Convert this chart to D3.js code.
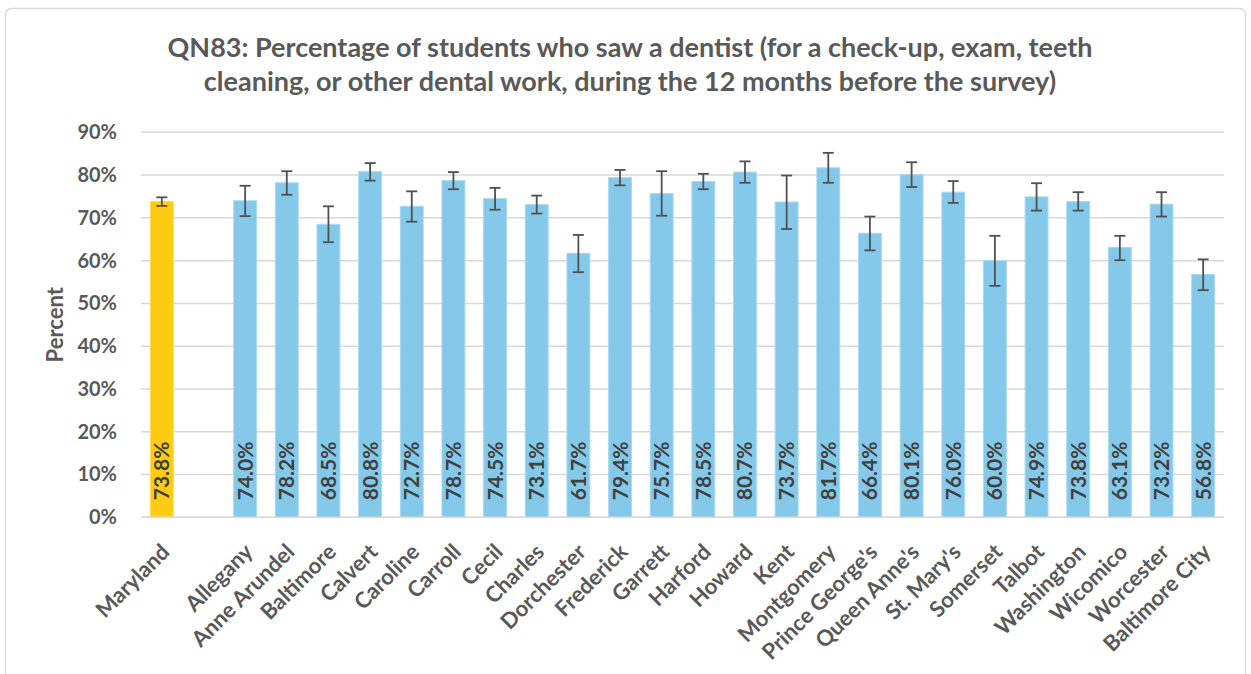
<!DOCTYPE html>
<html><head><meta charset="utf-8">
<script src="https://cdn.jsdelivr.net/npm/d3@7"></script>
<style>body{margin:0;background:#fff;} svg{display:block;font-family:Lato,"Open Sans",sans-serif;}</style>
</head><body>
<svg id="c" width="1251" height="674"></svg>
<script>
const categories = ["Maryland","","Allegany","Anne Arundel","Baltimore","Calvert","Caroline","Carroll","Cecil","Charles","Dorchester","Frederick","Garrett","Harford","Howard","Kent","Montgomery","Prince George's","Queen Anne's","St. Mary's","Somerset","Talbot","Washington","Wicomico","Worcester","Baltimore City"];
const values = [73.8,null,74.0,78.2,68.5,80.8,72.7,78.7,74.5,73.1,61.7,79.4,75.7,78.5,80.7,73.7,81.7,66.4,80.1,76.0,60.0,74.9,73.8,63.1,73.2,56.8];
const upper = [74.8,null,77.5,80.9,72.7,82.8,76.2,80.7,77.0,75.2,66.0,81.2,80.9,80.3,83.2,79.9,85.2,70.3,83.0,78.6,65.8,78.1,76.0,65.8,76.0,60.3];
const lower = [72.8,null,70.4,75.4,64.3,78.7,69.1,76.7,71.9,71.0,57.3,77.6,70.5,76.7,78.2,67.4,78.2,62.4,77.2,73.5,54.1,71.7,71.7,60.1,70.3,53.1];
const yTicks = [0,10,20,30,40,50,60,70,80,90];
const titleLines = ["QN83: Percentage of students who saw a dentist (for a check-up, exam, teeth","cleaning, or other dental work, during the 12 months before the survey)"];
const yTitle = "Percent";

const svg = d3.select("#c");
const m = {l:141, r:1224, t:132.3, b:517.3};
const keys = categories.map((c,i)=>"k"+i);
const x = d3.scaleBand().domain(keys).range([m.l,m.r]).paddingInner(0.45).paddingOuter(0.225);
const y = d3.scaleLinear().domain([0,90]).range([m.b,m.t]);

// frame
svg.append("rect").attr("x",5.5).attr("y",8.5).attr("width",1240).attr("height",700).attr("rx",6)
  .attr("fill","#fff").attr("stroke","#d9d9d9").attr("stroke-width",1.5);

// title
const tt = svg.append("text").attr("text-anchor","middle").attr("fill","#595959")
  .attr("font-weight","bold").attr("font-size",27);
titleLines.forEach((t,i)=>tt.append("tspan").attr("x",630).attr("y",57+i*34).text(t));

// grid
svg.append("g").selectAll("line").data(yTicks).join("line")
  .attr("x1",m.l).attr("x2",m.r).attr("y1",d=>y(d)).attr("y2",d=>y(d))
  .attr("stroke","#d9d9d9").attr("stroke-width",1.5);

// y axis
const ya = svg.append("g").attr("transform",`translate(${m.l},0)`)
  .call(d3.axisLeft(y).tickValues(yTicks).tickFormat(d=>d+"%").tickSize(0).tickPadding(24));
ya.select(".domain").remove();
ya.selectAll("text").attr("font-family","Lato").attr("font-weight","bold").attr("font-size",20).attr("fill","#595959");

svg.append("text").attr("transform",`translate(63,${(m.t+m.b)/2}) rotate(-90)`)
  .attr("text-anchor","middle").attr("font-weight","bold").attr("font-size",22).attr("fill","#595959").text(yTitle);

// bars
const data = categories.map((c,i)=>({k:keys[i],c,v:values[i],u:upper[i],lo:lower[i],i}));
const real = data.filter(d=>d.v!=null);
svg.append("g").selectAll("rect").data(real).join("rect")
  .attr("x",d=>x(d.k)).attr("width",x.bandwidth())
  .attr("y",d=>y(d.v)).attr("height",d=>y(0)-y(d.v))
  .attr("fill",d=>d.i===0?"#FFCC11":"#85C9EA")
  .attr("stroke",d=>d.i===0?"#FFDA55":"#A9D9F1").attr("stroke-width",1);

// error bars
const eb = svg.append("g").attr("stroke","#505050").attr("stroke-width",1.8);
real.forEach(d=>{
  const cx = x(d.k)+x.bandwidth()/2;
  eb.append("line").attr("x1",cx).attr("x2",cx).attr("y1",y(d.u)).attr("y2",y(d.lo));
  eb.append("line").attr("x1",cx-5.5).attr("x2",cx+5.5).attr("y1",y(d.u)).attr("y2",y(d.u));
  eb.append("line").attr("x1",cx-5.5).attr("x2",cx+5.5).attr("y1",y(d.lo)).attr("y2",y(d.lo));
});

// value labels
svg.append("g").selectAll("text").data(real).join("text")
  .attr("transform",d=>`translate(${x(d.k)+x.bandwidth()/2+7.5},${y(0)-17}) rotate(-90)`)
  .attr("font-weight","bold").attr("font-size",21).attr("fill","#404040")
  .text(d=>d.v.toFixed(1)+"%");

// baseline
svg.append("line").attr("x1",m.l).attr("x2",m.r).attr("y1",y(0)).attr("y2",y(0)).attr("stroke","#d9d9d9").attr("stroke-width",1.5);

// x labels
const xa = svg.append("g").attr("transform",`translate(0,${y(0)})`)
  .call(d3.axisBottom(x).tickSize(0).tickFormat(k=>categories[keys.indexOf(k)]));
xa.select(".domain").remove();
xa.selectAll("text").attr("font-family","Lato").attr("font-weight","bold").attr("font-size",22).attr("fill","#595959")
  .attr("text-anchor","end").attr("dy",null).attr("y",0)
  .attr("transform","translate(9,36) rotate(-45)");
</script>
</body></html>
